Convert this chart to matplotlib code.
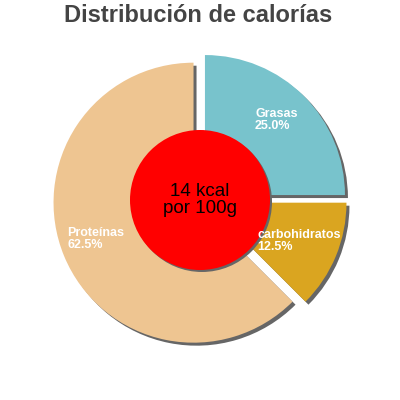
import matplotlib
matplotlib.use("Agg")
import matplotlib.pyplot as plt
from matplotlib.patches import Circle

title = "Distribución de calorías"
categories = ["Grasas", "carbohidratos", "Proteínas"]
values = [25.0, 12.5, 62.5]
colors = ["#78C3CC", "#DAA520", "#EEC591"]
center_text = "14 kcal\npor 100g"

W = H = 400
fig = plt.figure(figsize=(4, 4), dpi=100)
ax = fig.add_axes([0, 0, 1, 1])

cx, cy, r = 200, 200, 140
explode = [7] * len(values)

# shadow
ax.pie(values, colors=["#666666"] * 3, startangle=90, counterclock=False,
       center=(cx + 3, cy - 3), radius=r, explode=explode,
       wedgeprops=dict(linewidth=0), frame=True)
ax.pie(values, colors=colors, startangle=90, counterclock=False,
       center=(cx, cy), radius=r, explode=explode,
       wedgeprops=dict(linewidth=0), frame=True)
ax.set_xlim(0, W)
ax.set_ylim(0, H)
ax.set_aspect("equal")
ax.axis("off")

# center circle
ax.add_patch(Circle((cx + 2, cy - 2), 70, color="#666666", lw=0, zorder=5))
ax.add_patch(Circle((cx, cy), 70, color="#FF0000", lw=0, zorder=6))
ax.text(cx, cy, center_text, ha="center", va="center", fontsize=13.5,
        family="Liberation Sans", color="black", zorder=7, linespacing=1.0)

# labels (image coords: x, top y)
label_pos = [(255, 108), (257, 229), (67, 227)]
for (lx, ly), cat, v in zip(label_pos, categories, values):
    ax.text(lx, H - ly, f"{cat}\n{v:.1f}%", ha="left", va="top", fontsize=9,
            family="Liberation Sans", weight="bold", color="white",
            zorder=8, linespacing=0.95)

ax.text(198, H - 4, title, ha="center", va="top", fontsize=17,
        family="Liberation Sans", weight="bold", color="#444444")

fig.savefig("out.png", dpi=100)
